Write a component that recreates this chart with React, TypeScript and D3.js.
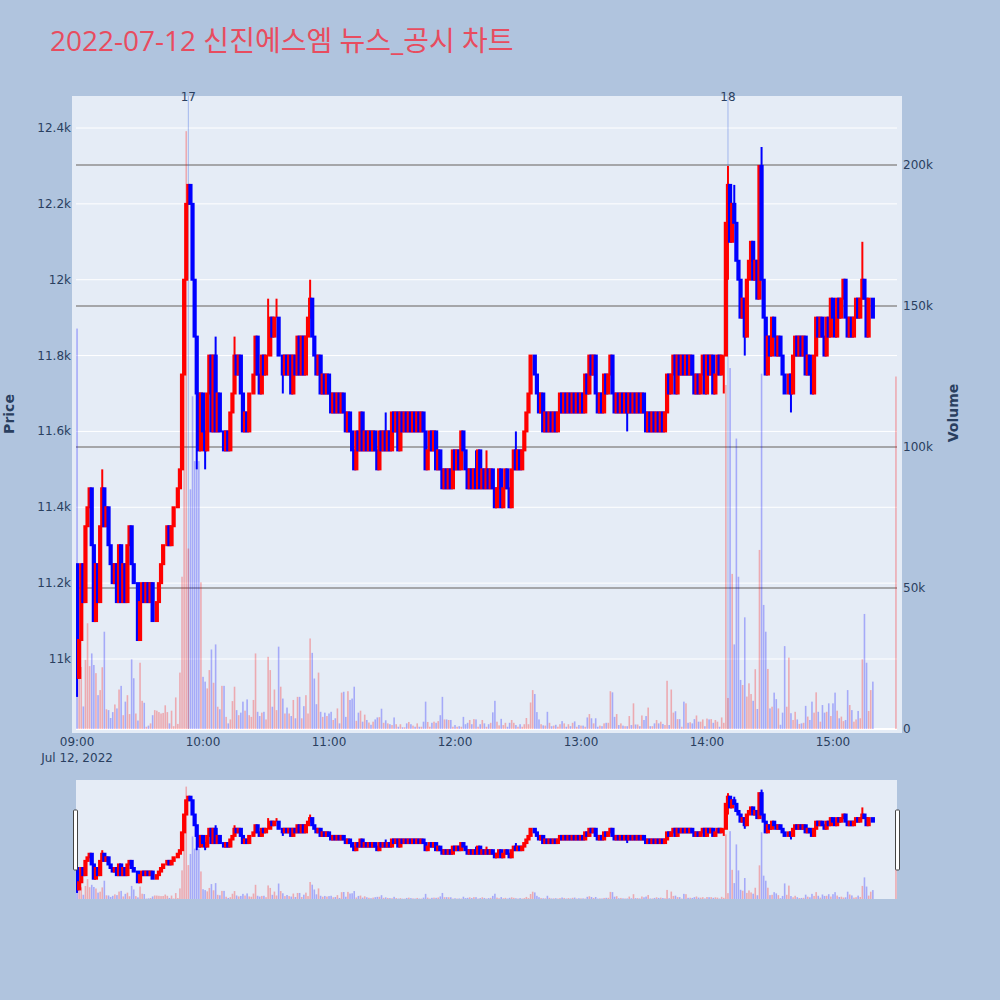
import React from "react";
import * as d3 from "d3";

const TITLE = "2022-07-12 신진에스엠 뉴스_공시 차트";
const SESSION_START = "2022-07-12T09:00:00";
const DATE_LABEL = "Jul 12, 2022";
const FIRST_OPEN = 11250;

// 1-minute closes, 09:00 .. 15:19 (open = previous close)
const closes = [
  10950, 11050, 11250, 11150, 11350, 11400, 11450, 11300, 11100, 11250,
  11150, 11350, 11450, 11350, 11400, 11300, 11250, 11200, 11250, 11150,
  11300, 11150, 11250, 11150, 11300, 11350, 11250, 11200, 11200, 11050,
  11150, 11200, 11150, 11200, 11150, 11200, 11100, 11100, 11150, 11200,
  11250, 11300, 11300, 11350, 11300, 11350, 11400, 11400, 11450, 11500,
  11750, 12000, 12200, 12250, 12200, 12000, 11850, 11700, 11550, 11700,
  11600, 11550, 11700, 11800, 11600, 11800, 11600, 11700, 11600, 11600,
  11550, 11600, 11550, 11650, 11700, 11800, 11750, 11800, 11700, 11600,
  11650, 11600, 11700, 11700, 11750, 11850, 11750, 11700, 11800, 11750,
  11800, 11800, 11900, 11850, 11900, 11900, 11800, 11800, 11750, 11800,
  11750, 11800, 11700, 11800, 11750, 11850, 11750, 11850, 11750, 11850,
  11900, 11950, 11850, 11800, 11750, 11800, 11700, 11750, 11700, 11750,
  11700, 11650, 11700, 11650, 11700, 11650, 11700, 11650, 11600, 11650,
  11600, 11550, 11500, 11600, 11550, 11650, 11550, 11600, 11550, 11600,
  11550, 11600, 11550, 11500, 11600, 11550, 11600, 11550, 11600, 11550,
  11650, 11600, 11650, 11550, 11650, 11600, 11650, 11600, 11650, 11600,
  11650, 11600, 11650, 11600, 11650, 11600, 11500, 11550, 11600, 11550,
  11600, 11500, 11550, 11500, 11450, 11500, 11450, 11500, 11450, 11550,
  11500, 11550, 11500, 11600, 11550, 11500, 11450, 11500, 11450, 11500,
  11450, 11550, 11450, 11500, 11450, 11500, 11450, 11500, 11450, 11400,
  11450, 11500, 11400, 11450, 11500, 11450, 11400, 11500, 11550, 11500,
  11550, 11500, 11550, 11600, 11650, 11700, 11800, 11800, 11750, 11700,
  11650, 11700, 11600, 11650, 11600, 11650, 11600, 11650, 11600, 11650,
  11700, 11650, 11700, 11650, 11700, 11650, 11700, 11650, 11700, 11650,
  11700, 11650, 11750, 11700, 11800, 11750, 11800, 11700, 11650, 11700,
  11650, 11750, 11700, 11750, 11800, 11700, 11650, 11700, 11650, 11700,
  11650, 11700, 11650, 11700, 11650, 11700, 11650, 11700, 11650, 11700,
  11650, 11600, 11650, 11600, 11650, 11600, 11650, 11600, 11650, 11600,
  11650, 11750, 11700, 11750, 11800, 11700, 11800, 11750, 11800, 11750,
  11800, 11750, 11800, 11750, 11700, 11750, 11700, 11750, 11800, 11700,
  11800, 11750, 11800, 11700, 11750, 11800, 11750, 11800, 11800, 12150,
  12250, 12100, 12200, 12150, 12050, 12000, 11900, 11950, 11850, 12000,
  12050, 12100, 12000, 12050, 11950, 12300, 12000, 11900, 11750, 11850,
  11800, 11900, 11850, 11800, 11850, 11800, 11750, 11700, 11700, 11750,
  11700, 11800, 11850, 11800, 11850, 11800, 11850, 11750, 11800, 11750,
  11700, 11800, 11900, 11850, 11900, 11850, 11800, 11900, 11850, 11950,
  11900, 11850, 11950, 11900, 11950, 12000, 11900, 11850, 11900, 11850,
  11900, 11950, 11900, 11950, 12000, 11950, 11850, 11950, 11950, 11900,
];

// 1-minute volumes in thousands of shares
const volumesK = [
  142, 18, 22, 8, 24.5, 37.5, 22.3, 26.8, 22.7, 19.8,
  12, 13.8, 21.9, 34.5, 7, 6.7, 3.9, 6, 8.7, 7.3,
  14, 15.3, 4.9, 9.7, 12, 5.3, 24.7, 18, 5.5, 3,
  23.5, 10, 9.3, 0.8, 1.2, 2, 4.9, 6.7, 6.5, 6,
  5.5, 5.7, 8.4, 6, 2, 6.5, 1, 11.2, 1.8, 20,
  54, 146, 212, 64, 85, 118, 95, 95, 95, 52,
  18.5, 16.8, 14.4, 20.9, 28.2, 16.4, 30, 7.9, 7, 15.3,
  15.3, 4.3, 2, 3.4, 9.9, 15, 6.7, 4.9, 5.8, 9.7,
  6.5, 10.5, 4.9, 4.3, 10.3, 26.8, 6.1, 4.6, 5.8, 6.1,
  3.4, 25.6, 20.9, 7.9, 14, 6.7, 29.2, 15, 10.8, 5.5,
  7.6, 5.5, 4.6, 10.3, 3.8, 11.4, 11.4, 3.8, 8.1, 12,
  5.5, 32.1, 27, 17.9, 8.8, 20, 6.1, 4.3, 5.8, 4.6,
  5.5, 6.1, 3.2, 3.8, 7.3, 2, 12.9, 13.2, 4.3, 13.4,
  10.3, 10.8, 15, 2.9, 5.8, 6.5, 2.6, 5.1, 3.2, 2.3,
  1.5, 2.6, 3.4, 4.1, 4.2, 7.2, 2.2, 3.1, 2, 1.7,
  1.4, 4.1, 1.7, 0.8, 1.7, 0.6, 0.6, 2, 2.5, 1.7,
  1.2, 0.8, 2, 0.8, 0.8, 2.6, 9.7, 2.5, 0.8, 2.2,
  2.6, 2.2, 2.8, 4.9, 11.4, 3.4, 3.4, 3.2, 3.2, 0.8,
  1.4, 0.8, 1, 0.8, 4.3, 1.7, 2.2, 3.2, 1.7, 3.5,
  3.4, 0.8, 1.7, 3.2, 2, 0.8, 1.7, 2.2, 5.9, 10,
  2.6, 1.3, 3.6, 1.4, 2.2, 0.8, 2.2, 3.2, 2.2, 1.4,
  0.8, 1.7, 0.8, 1.7, 3.9, 1.7, 9.4, 13.8, 12.4, 6,
  3.4, 1.7, 1.3, 1.2, 6.1, 2.2, 1, 1.2, 1.5, 0.8,
  1.7, 2.8, 2, 0.8, 1.7, 1, 2.2, 2.7, 0.8, 1.4,
  1.2, 1.2, 0.8, 4.1, 5.3, 3.8, 2, 3.8, 0.8, 1.2,
  1, 2, 2.2, 2.2, 13.4, 13, 4.3, 5.3, 1.4, 2,
  1.2, 1, 1, 4.6, 1.4, 9.1, 1.6, 1.6, 1, 4.8,
  3.2, 4.6, 7.6, 1, 1, 2, 3.2, 2, 2.6, 1.8,
  1.4, 17.1, 1.4, 14, 5.8, 6.3, 3.5, 3.5, 0.8, 9.7,
  9.1, 2.2, 2.4, 2, 3.5, 4.8, 2.6, 2.6, 3.4, 1,
  3.7, 3.4, 3.5, 2.2, 3.2, 2.6, 0.8, 4.1, 2.2, 122,
  11, 128, 55, 30, 103, 54, 17.4, 15.6, 39.6, 11.5,
  16.2, 12.4, 10, 21.2, 7.1, 63.5, 126, 44, 34.5, 21.3,
  7.3, 7.9, 12.9, 10.6, 7.3, 1.5, 5.8, 29.4, 7.9, 25.3,
  5.6, 3.2, 6.1, 3.4, 1.8, 2, 2.2, 8.2, 4.4, 3.2,
  9.7, 5.8, 13, 6.1, 2.6, 8.5, 5.8, 6.1, 9.1, 4.6,
  9.1, 12.9, 6.5, 3.8, 4.4, 2.8, 3.2, 13.8, 8.5, 6.7,
  2.6, 3.4, 6.4, 3.8, 24.7, 40.8, 23.5, 6.4, 13.8, 16.8,
];

// wick extremes beyond the body: [minute index, high] and [minute index, low]
const wickHighs: [number, number][] = [
  [12, 11500], [53, 12250], [54, 12250], [66, 11850], [75, 11850], [91, 11950],
  [95, 11950], [111, 12000], [147, 11650], [190, 11550], [195, 11550], [209, 11600],
  [310, 12300], [313, 12250], [326, 12350], [374, 12100],
];
const wickLows: [number, number][] = [
  [0, 10900], [57, 11500], [61, 11500], [98, 11700], [262, 11600], [308, 11700],
  [310, 12000], [318, 11800], [340, 11650],
];

// closing single-price auction at 15:30
const closingAuction = { minute: 390, price: 12100, volumeK: 125 };

const newsMarks = [
  { label: "17", time: "09:53" },
  { label: "18", time: "14:10" },
];

const priceTicks = [11000, 11200, 11400, 11600, 11800, 12000, 12200, 12400];
const volumeTicks = [0, 50000, 100000, 150000, 200000];
const hourTicks = ["09:00", "10:00", "11:00", "12:00", "13:00", "14:00", "15:00"];

const UP = "#ff0000";
const DOWN = "#0000ff";
const TITLE_FONT = "'Open Sans', 'Noto Sans CJK KR', sans-serif";
const FONT = "'DejaVu Sans', Verdana, sans-serif";
const TICK_COLOR = "#2a3f5f";

type Candle = { t: Date; o: number; h: number; l: number; c: number; v: number };

const base = new Date(SESSION_START);
const atMinute = (m: number) => new Date(base.getTime() + m * 60000);
const parseHM = (s: string) => {
  const [hh, mm] = s.split(":").map(Number);
  return new Date(base.getFullYear(), base.getMonth(), base.getDate(), hh, mm);
};

const highMap = new Map(wickHighs);
const lowMap = new Map(wickLows);

const candles: Candle[] = closes.map((c, i) => {
  const o = i === 0 ? FIRST_OPEN : closes[i - 1];
  const h = Math.max(o, c, highMap.get(i) ?? -Infinity);
  const l = Math.min(o, c, lowMap.get(i) ?? Infinity);
  return { t: atMinute(i), o, h, l, c, v: volumesK[i] * 1000 };
});
candles.push({
  t: atMinute(closingAuction.minute),
  o: closingAuction.price,
  h: closingAuction.price,
  l: closingAuction.price,
  c: closingAuction.price,
  v: closingAuction.volumeK * 1000,
});

const PLOT = { left: 76, right: 897, top: 96, bottom: 729 };
const SLIDER = { top: 780, bottom: 899 };

const x = d3
  .scaleTime()
  .domain([atMinute(-0.5), atMinute(390.5)])
  .range([PLOT.left, PLOT.right]);
const yPrice = d3.scaleLinear().domain([10815.4, 12484.4]).range([PLOT.bottom, PLOT.top]);
const yVol = d3.scaleLinear().domain([0, 224470]).range([PLOT.bottom, PLOT.top]);
const yPriceS = yPrice.copy().range([SLIDER.bottom, SLIDER.top]);
const yVolS = yVol.copy().range([SLIDER.bottom, SLIDER.top]);

const fmtSI = d3.format("~s");
const fmtHM = d3.timeFormat("%H:%M");

function Series({ yp, yv, clipId }: { yp: d3.ScaleLinear<number, number>; yv: d3.ScaleLinear<number, number>; clipId: string }) {
  const barW = 1.6;
  const bodyW = 2.2;
  return (
    <g clipPath={`url(#${clipId})`}>
      {candles.map((d, i) => {
        const col = d.c >= d.o ? UP : DOWN;
        const cx = x(d.t);
        return (
          <rect
            key={"v" + i}
            x={cx - barW / 2}
            y={yv(d.v)}
            width={barW}
            height={Math.max(0, yv(0) - yv(d.v))}
            fill={col}
            fillOpacity={0.28}
          />
        );
      })}
      {candles.map((d, i) => {
        const col = d.c >= d.o ? UP : DOWN;
        const cx = x(d.t);
        const top = yp(Math.max(d.o, d.c));
        const bot = yp(Math.min(d.o, d.c));
        return (
          <g key={"c" + i}>
            <line x1={cx} x2={cx} y1={yp(d.h)} y2={yp(d.l)} stroke={col} strokeWidth={2} />
            <rect
              x={cx - bodyW / 2}
              y={top}
              width={bodyW}
              height={Math.max(0, bot - top)}
              fill={col}
              stroke={col}
              strokeWidth={2}
            />
          </g>
        );
      })}
    </g>
  );
}

export default function App() {
  const firstTick = parseHM(hourTicks[0]);
  return (
    <svg
      width={1000}
      height={1000}
      style={{ position: "absolute", left: 0, top: 0, fontFamily: FONT }}
    >
      <defs>
        <clipPath id="mainClip">
          <rect x={PLOT.left} y={PLOT.top} width={PLOT.right - PLOT.left} height={PLOT.bottom - PLOT.top} />
        </clipPath>
        <clipPath id="sliderClip">
          <rect x={PLOT.left} y={SLIDER.top} width={PLOT.right - PLOT.left} height={SLIDER.bottom - SLIDER.top} />
        </clipPath>
      </defs>
      <rect x={0} y={0} width={1000} height={1000} fill="#b0c4de" />

      <text x={50} y={51} fontSize={28} fill="#e84c5f" fontFamily={TITLE_FONT}>
        {TITLE}
      </text>

      {/* main plot background */}
      <rect x={72} y={PLOT.top} width={830} height={637} fill="#e5ecf6" />

      {/* price grid (white) */}
      {priceTicks.map((p) => (
        <line key={"pg" + p} x1={PLOT.left} x2={PLOT.right} y1={yPrice(p)} y2={yPrice(p)} stroke="#ffffff" strokeWidth={1} />
      ))}
      {/* volume grid */}
      {volumeTicks.map((v) => (
        <line
          key={"vg" + v}
          x1={PLOT.left}
          x2={PLOT.right}
          y1={yVol(v)}
          y2={yVol(v)}
          stroke={v === 0 ? "#ffffff" : "#8f8f8f"}
          strokeWidth={v === 0 ? 2 : 1.3}
        />
      ))}

      {/* news markers */}
      {newsMarks.map((n) => {
        const nx = x(parseHM(n.time));
        return (
          <g key={n.label}>
            <line x1={nx} x2={nx} y1={PLOT.top} y2={PLOT.bottom} stroke="rgba(65,105,225,0.4)" strokeWidth={1} />
            <text x={nx} y={101} textAnchor="middle" fontSize={12} fill={TICK_COLOR}>
              {n.label}
            </text>
          </g>
        );
      })}

      <Series yp={yPrice} yv={yVol} clipId="mainClip" />

      {/* price axis labels */}
      {priceTicks.map((p) => (
        <text key={"pt" + p} x={71} y={yPrice(p) + 4} textAnchor="end" fontSize={12} fill={TICK_COLOR}>
          {fmtSI(p)}
        </text>
      ))}
      {/* volume axis labels */}
      {volumeTicks.map((v) => (
        <text key={"vt" + v} x={903} y={yVol(v) + 4} textAnchor="start" fontSize={12} fill={TICK_COLOR}>
          {fmtSI(v)}
        </text>
      ))}
      {/* time axis labels */}
      {hourTicks.map((h) => {
        const t = parseHM(h);
        return (
          <text key={h} x={x(t)} y={746} textAnchor="middle" fontSize={12} fill={TICK_COLOR}>
            {fmtHM(t)}
          </text>
        );
      })}
      <text x={x(firstTick)} y={762} textAnchor="middle" fontSize={12} fill={TICK_COLOR}>
        {DATE_LABEL}
      </text>

      {/* axis titles */}
      <text
        transform={`translate(14,414) rotate(-90)`}
        textAnchor="middle"
        fontSize={14}
        fontWeight="bold"
        fill={TICK_COLOR}
      >
        Price
      </text>
      <text
        transform={`translate(958,413) rotate(-90)`}
        textAnchor="middle"
        fontSize={14}
        fontWeight="bold"
        fill={TICK_COLOR}
      >
        Volume
      </text>

      {/* range slider */}
      <rect x={PLOT.left} y={SLIDER.top} width={PLOT.right - PLOT.left} height={SLIDER.bottom - SLIDER.top} fill="#e5ecf6" />
      <Series yp={yPriceS} yv={yVolS} clipId="sliderClip" />
      <rect x={73.5} y={810} width={4} height={60} rx={1} fill="#ffffff" stroke="#444" strokeWidth={1} />
      <rect x={895.5} y={810} width={4} height={60} rx={1} fill="#ffffff" stroke="#444" strokeWidth={1} />
    </svg>
  );
}
